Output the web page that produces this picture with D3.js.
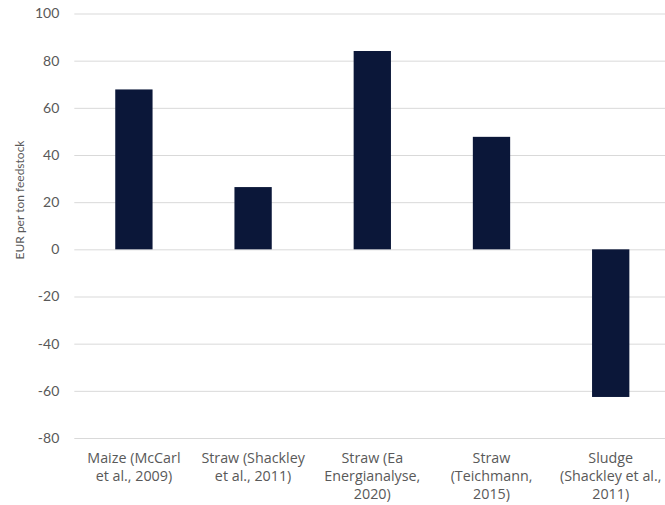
<!DOCTYPE html>
<html>
<head>
<meta charset="utf-8">
<script src="https://cdn.jsdelivr.net/npm/d3@7"></script>
<style>
  html, body { margin: 0; padding: 0; background: #fff; }
  svg { display: block; }
  text { font-family: "Open Sans", Lato, sans-serif; fill: #595959; }
</style>
</head>
<body>
<svg id="chart" width="665" height="505"></svg>
<script>
const categories = [
  "Maize (McCarl|et al., 2009)",
  "Straw (Shackley|et al., 2011)",
  "Straw (Ea|Energianalyse,|2020)",
  "Straw|(Teichmann,|2015)",
  "Sludge|(Shackley et al.,|2011)"
];
const values = [67.8, 26.4, 84.1, 47.7, -62.6];
const yTicks = [-80, -60, -40, -20, 0, 20, 40, 60, 80, 100];
const yTitle = "EUR per ton feedstock";

const W = 665, H = 505;
const m = { left: 74.3, top: 13.5 };
const svg = d3.select("#chart");

const x = d3.scaleBand()
  .domain(categories)
  .range([m.left, W + 5.3])
  .paddingInner(0.687)
  .paddingOuter(0.3435);

const y = d3.scaleLinear()
  .domain([-80, 100])
  .range([438, 13.5]);

const yAxis = d3.axisLeft(y).tickValues(yTicks).tickSize(-(W - m.left)).tickPadding(15)
  .tickFormat(d => String(d));
const gy = svg.append("g").attr("transform", `translate(${m.left},0)`).call(yAxis);
gy.select(".domain").remove();
gy.selectAll(".tick line").attr("stroke", "#d9d9d9").attr("stroke-width", 1);
gy.selectAll(".tick text").attr("font-size", 14).attr("fill", "#595959")
  .style("font-family", "Lato, 'Open Sans', sans-serif");

svg.append("g").selectAll("rect").data(values).join("rect")
  .attr("x", (d, i) => x(categories[i]))
  .attr("width", x.bandwidth())
  .attr("y", d => y(Math.max(0, d)))
  .attr("height", d => Math.abs(y(d) - y(0)))
  .attr("fill", "#0b1739");

const xAxis = d3.axisBottom(x).tickSize(0).tickPadding(0).tickFormat(() => "");
const gx = svg.append("g").attr("transform", `translate(0,438)`).call(xAxis);
gx.select(".domain").remove();
gx.selectAll(".tick").each(function(d) {
  const t = d3.select(this).append("text")
    .attr("text-anchor", "middle")
    .attr("font-size", 14.3)
    .attr("fill", "#595959");
  d.split("|").forEach((line, i) => {
    t.append("tspan").attr("x", 0).attr("y", 25 + i * 17.8).text(line);
  });
});

svg.append("text")
  .attr("transform", `translate(24,200) rotate(-90)`)
  .attr("text-anchor", "middle")
  .attr("font-size", 12)
  .attr("fill", "#595959")
  .style("font-family", "Lato, 'Open Sans', sans-serif")
  .text(yTitle);
</script>
</body>
</html>
